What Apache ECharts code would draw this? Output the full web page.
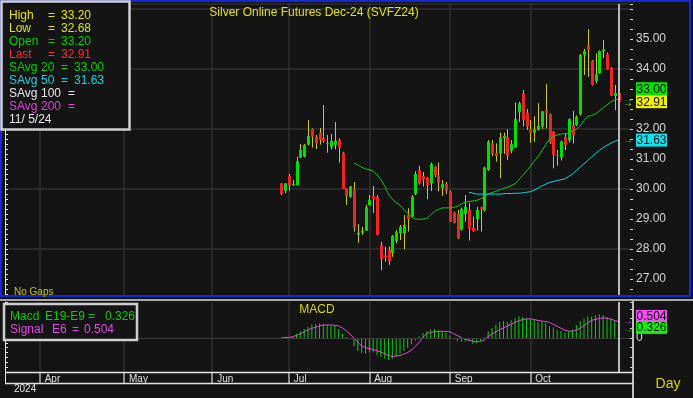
<!DOCTYPE html>
<html>
<head>
<meta charset="utf-8">
<script src="https://cdn.jsdelivr.net/npm/echarts@6.0.0/dist/echarts.min.js"></script>
<style>
  html, body { margin: 0; padding: 0; background: #141414; }
  #chart { width: 693px; height: 398px; }
</style>
</head>
<body>
<div id="chart"></div>
<script>
// trading-day slots per month
const monthNames = ['Mar', 'Apr', 'May', 'Jun', 'Jul', 'Aug', 'Sep', 'Oct', 'Nov']
const monthDays = [8, 22, 23, 20, 21, 21, 21, 21, 6]
// months that get a gridline and a label
const labelledMonths = ['Apr', 'May', 'Jun', 'Jul', 'Aug', 'Sep', 'Oct']
// first plotted bar
const firstBar = 'Jun 19'

// daily OHLC, Jun 27 .. Nov 5
const open = [
  30.18, 29.94, 30.43, 30.16, 30.13, 31.04, 31.08, 31.48, 32.00, 31.73,
  31.87, 31.71, 31.52, 31.41, 31.47, 31.64, 31.21, 30.02, 29.74, 29.99,
  28.48, 28.54, 28.61, 29.46, 29.77, 29.74, 28.14, 27.78, 27.97, 27.86,
  28.27, 28.52, 28.52, 29.13, 29.08, 29.83, 30.63, 30.43, 30.37, 30.19,
  30.74, 30.43, 30.04, 30.17, 29.91, 29.21, 29.17, 28.66, 29.17, 29.30,
  28.71, 28.99, 29.38, 29.28, 30.63, 31.52, 31.19, 31.19, 31.69, 31.72,
  31.28, 31.38, 32.56, 33.19, 32.54, 31.99, 31.88, 31.97, 32.08, 32.63,
  32.49, 31.91, 31.13, 31.05, 31.74, 31.63, 32.13, 32.13, 32.49, 34.47,
  34.78, 34.27, 33.60, 33.86, 34.60, 34.49, 34.04, 33.10, 33.20
]
const high = [
  30.20, 30.19, 30.50, 30.30, 31.07, 31.50, 31.50, 32.30, 32.02, 31.80,
  32.03, 32.80, 31.80, 31.83, 32.23, 31.69, 31.24, 30.02, 30.10, 30.23,
  28.83, 28.74, 29.47, 29.80, 30.10, 29.80, 28.24, 28.08, 28.08, 28.47,
  28.63, 28.80, 29.13, 29.36, 29.80, 30.59, 30.77, 30.57, 30.40, 30.88,
  30.77, 30.88, 30.30, 30.23, 29.95, 29.24, 29.30, 29.38, 29.80, 29.54,
  29.08, 29.41, 29.41, 30.74, 31.63, 31.63, 31.52, 31.88, 31.88, 31.99,
  31.63, 32.89, 32.91, 33.30, 32.67, 32.30, 32.43, 32.86, 32.60, 33.50,
  32.52, 31.93, 31.30, 31.62, 31.85, 32.35, 32.60, 32.45, 34.50, 34.67,
  35.33, 34.30, 34.52, 34.62, 34.97, 34.55, 34.06, 33.47, 33.20
]
const low = [
  29.80, 29.86, 29.94, 30.10, 30.13, 31.04, 31.05, 31.45, 31.38, 31.33,
  31.48, 31.54, 31.21, 31.32, 31.32, 30.88, 30.00, 29.47, 29.70, 28.58,
  28.21, 28.47, 28.60, 29.45, 29.21, 28.45, 27.30, 27.58, 27.47, 27.74,
  28.19, 28.30, 27.99, 28.58, 29.05, 29.80, 30.15, 30.08, 29.66, 29.93,
  30.40, 29.93, 29.77, 29.84, 28.90, 28.86, 28.33, 28.61, 28.91, 28.28,
  28.58, 28.61, 28.58, 29.25, 30.60, 31.10, 30.91, 30.36, 31.17, 30.97,
  31.19, 31.38, 32.24, 32.08, 31.97, 31.54, 31.58, 31.95, 32.00, 32.02,
  31.50, 30.69, 30.77, 30.95, 31.30, 31.55, 31.52, 32.10, 32.45, 33.80,
  33.74, 33.45, 33.52, 33.84, 34.36, 33.98, 33.10, 32.63, 32.68
]
const close = [
  29.83, 30.19, 30.10, 30.17, 30.93, 31.30, 31.47, 31.77, 31.74, 31.52,
  31.64, 31.60, 31.54, 31.60, 31.61, 31.38, 30.00, 29.77, 30.08, 28.71,
  28.54, 28.61, 29.39, 29.63, 29.66, 28.47, 27.66, 27.72, 27.58, 28.44,
  28.56, 28.74, 28.80, 28.99, 29.74, 30.50, 30.19, 30.32, 30.12, 30.83,
  30.47, 30.21, 30.17, 29.94, 28.93, 28.86, 28.36, 29.33, 29.41, 28.67,
  28.60, 29.30, 29.33, 30.71, 31.58, 31.17, 31.10, 31.72, 31.77, 31.11,
  31.50, 32.33, 32.86, 32.30, 32.08, 31.86, 31.99, 32.10, 32.58, 32.52,
  31.55, 31.13, 31.10, 31.58, 31.47, 32.33, 31.80, 32.41, 34.47, 34.60,
  34.63, 33.47, 33.82, 34.60, 34.65, 34.00, 33.11, 33.20, 32.91
]
// simple averages
const sma20 = Array(19).fill(null).concat([
  30.87, 30.80, 30.73, 30.67, 30.64, 30.60, 30.47, 30.32, 30.10, 29.82,
  29.66, 29.55, 29.46, 29.32, 29.19, 29.07, 29.00, 28.99, 29.00, 29.02,
  29.14, 29.25, 29.32, 29.37, 29.37, 29.37, 29.39, 29.42, 29.50, 29.56,
  29.58, 29.60, 29.62, 29.67, 29.74, 29.84, 29.88, 29.92, 29.97, 30.02,
  30.06, 30.11, 30.17, 30.31, 30.45, 30.60, 30.75, 30.92, 31.08, 31.27,
  31.47, 31.66, 31.74, 31.80, 31.83, 31.85, 31.86, 31.92, 32.00, 32.10,
  32.28, 32.42, 32.45, 32.50, 32.60, 32.71, 32.80, 32.90, 32.97, 33.00
])
const sma50 = Array(49).fill(null).concat([
  29.89, 29.86, 29.83, 29.83, 29.83, 29.83, 29.83, 29.83, 29.83, 29.84,
  29.85, 29.85, 29.86, 29.86, 29.87, 29.89, 29.91, 29.96, 30.03, 30.10,
  30.16, 30.22, 30.25, 30.28, 30.31, 30.34, 30.42, 30.50, 30.61, 30.73,
  30.84, 30.95, 31.07, 31.18, 31.29, 31.38, 31.46, 31.53, 31.59, 31.63
])
// MACD panel
const macd = [
  0.00, 0.00, 0.01, 0.04, 0.12, 0.21, 0.28, 0.35, 0.42, 0.44,
  0.45, 0.43, 0.40, 0.38, 0.37, 0.28, 0.12, 0.03, -0.04, -0.25,
  -0.40, -0.46, -0.49, -0.43, -0.45, -0.52, -0.57, -0.63, -0.68, -0.64,
  -0.58, -0.49, -0.40, -0.30, -0.19, -0.08, 0.05, 0.15, 0.21, 0.26,
  0.28, 0.24, 0.20, 0.16, 0.08, -0.04, -0.10, -0.12, -0.11, -0.11,
  -0.18, -0.16, -0.09, 0.02, 0.20, 0.31, 0.41, 0.49, 0.52, 0.50,
  0.55, 0.62, 0.67, 0.65, 0.62, 0.57, 0.57, 0.50, 0.51, 0.47,
  0.37, 0.32, 0.25, 0.21, 0.16, 0.20, 0.26, 0.40, 0.52, 0.60,
  0.67, 0.66, 0.70, 0.73, 0.71, 0.65, 0.60, 0.52, 0.326
]
const signal = [
  0.00, 0.01, 0.02, 0.04, 0.08, 0.13, 0.19, 0.25, 0.30, 0.33,
  0.37, 0.40, 0.40, 0.40, 0.39, 0.37, 0.31, 0.22, 0.12, -0.01,
  -0.14, -0.24, -0.30, -0.33, -0.36, -0.39, -0.43, -0.49, -0.54, -0.57,
  -0.56, -0.54, -0.50, -0.45, -0.37, -0.26, -0.13, 0.02, 0.14, 0.17,
  0.19, 0.20, 0.21, 0.20, 0.19, 0.13, 0.07, 0.01, -0.04, -0.07,
  -0.10, -0.12, -0.11, -0.06, 0.04, 0.12, 0.19, 0.26, 0.31, 0.37,
  0.42, 0.48, 0.53, 0.57, 0.59, 0.59, 0.57, 0.54, 0.52, 0.51,
  0.48, 0.42, 0.36, 0.30, 0.24, 0.21, 0.21, 0.24, 0.30, 0.38,
  0.48, 0.54, 0.58, 0.60, 0.62, 0.61, 0.58, 0.54, 0.504
]

const font = 'Liberation Sans, Arial, sans-serif'
const gridColor = '#2f2f2f'
const upColor = '#00e000'
const downColor = '#f02424'
const wickColor = '#cccc00'
const yellow = '#e4e400'
const green = '#00d000'
const cyan = '#10d4e4'
const magenta = '#e448e4'

// category slots
const cats = []
monthNames.forEach((m, k) => {
  for (let d = 1; d <= monthDays[k]; d++) cats.push(m + ' ' + d)
})
const offset = cats.indexOf(firstBar)
const lastIdx = offset + close.length - 1
const lastCat = cats[lastIdx]
const padded = arr => cats.map((_, i) => {
  const k = i - offset
  return k >= 0 && k < arr.length ? arr[k] : null
})
const isMonthTick = i => {
  const [m, d] = cats[i].split(' ')
  return d === '1' && labelledMonths.includes(m)
}

const candleData = close.map((c, i) => [offset + i, open[i], c, low[i], high[i]])

// price scale: main panel y 4..296
const priceMin = 26.4333
const priceMax = 36.1667

function renderCandle (params, api) {
  const idx = api.value(0)
  const o = api.value(1)
  const c = api.value(2)
  const pO = api.coord([idx, o])
  const pC = api.coord([idx, c])
  const pL = api.coord([idx, api.value(3)])
  const pH = api.coord([idx, api.value(4)])
  const x = Math.round(pO[0])
  const top = Math.min(pO[1], pC[1])
  const bh = Math.max(Math.abs(pO[1] - pC[1]), 1)
  return {
    type: 'group',
    children: [
      { type: 'line', shape: { x1: x + 0.5, y1: pH[1], x2: x + 0.5, y2: pL[1] }, style: { stroke: wickColor, lineWidth: 1 } },
      { type: 'rect', shape: { x: x - 1, y: top, width: 3, height: bh }, style: { fill: c >= o ? upColor : downColor } }
    ]
  }
}

const priceLabel = v => {
  const r = Math.round(v)
  return Math.abs(v - r) < 1e-6 && r >= 27 && r <= 35 && r !== 33 ? r.toFixed(2) : ''
}

const chart = echarts.init(document.getElementById('chart'))
const option = {
  backgroundColor: '#141414',
  animation: false,
  grid: [
    { left: 9, right: 63, top: 4, height: 292 },
    { left: 9, right: 63, top: 302, height: 70 }
  ],
  xAxis: [
    {
      type: 'category', gridIndex: 0, data: cats, boundaryGap: false,
      axisLine: { show: false }, axisTick: { show: false }, axisLabel: { show: false },
      splitLine: { show: true, interval: isMonthTick, lineStyle: { color: gridColor, width: 1.5 } }
    },
    {
      type: 'category', gridIndex: 1, data: cats, boundaryGap: false,
      axisLine: { show: false, onZero: false },
      axisTick: { show: true, interval: isMonthTick, length: 11, lineStyle: { color: '#8a8a8a', width: 2 } },
      axisLabel: {
        show: true, interval: isMonthTick, formatter: v => v.split(' ')[0],
        color: '#e0e0e0', fontSize: 10, fontFamily: font, align: 'left', padding: [0, 0, 0, 5], margin: 2
      },
      splitLine: { show: true, interval: isMonthTick, lineStyle: { color: gridColor, width: 1.5 } }
    }
  ],
  yAxis: [
    {
      type: 'value', gridIndex: 0, position: 'right', min: priceMin, max: priceMax, minInterval: 1, maxInterval: 1,
      axisLine: { show: false },
      axisTick: { show: true, length: 3, lineStyle: { color: '#d0d0d0' } },
      minorTick: { show: true, splitNumber: 3, length: 3, lineStyle: { color: '#d0d0d0' } },
      axisLabel: { color: '#d4d4d4', fontSize: 12, fontFamily: font, margin: 6, formatter: priceLabel },
      splitLine: { show: false }
    },
    {
      type: 'value', gridIndex: 0, position: 'right', min: priceMin, max: priceMax, minInterval: 2, maxInterval: 2,
      axisLine: { show: false }, axisTick: { show: false }, axisLabel: { show: false },
      splitLine: { show: true, lineStyle: { color: gridColor, width: 1.5 } }
    },
    {
      type: 'value', gridIndex: 0, position: 'left', offset: 4, min: priceMin, max: priceMax, minInterval: 1, maxInterval: 1,
      axisLine: { show: true, lineStyle: { color: '#e8e8e8' } },
      axisTick: { show: true, inside: true, length: 3, lineStyle: { color: '#e8e8e8' } },
      minorTick: { show: true, splitNumber: 6, length: 3, lineStyle: { color: '#e8e8e8' } },
      axisLabel: { show: false }, splitLine: { show: false }
    },
    {
      type: 'value', gridIndex: 1, position: 'right', min: -1.05, max: 1.11, minInterval: 0.3, maxInterval: 0.3,
      axisLine: { show: false },
      axisTick: { show: true, length: 3, lineStyle: { color: '#d0d0d0' } },
      axisLabel: { color: '#d8d8f0', fontSize: 12, fontFamily: font, margin: 6, formatter: v => Math.abs(v) < 1e-6 ? '0' : '' },
      splitLine: { show: false }
    },
    {
      type: 'value', gridIndex: 1, position: 'left', offset: 4, min: -1.05, max: 1.11, minInterval: 0.3, maxInterval: 0.3,
      axisLine: { show: true, lineStyle: { color: '#e8e8e8' } },
      axisTick: { show: true, inside: true, length: 3, lineStyle: { color: '#e8e8e8' } },
      minorTick: { show: true, splitNumber: 2, length: 3, lineStyle: { color: '#e8e8e8' } },
      axisLabel: { show: false }, splitLine: { show: false }
    }
  ],
  series: [
    {
      type: 'custom', name: 'Price', xAxisIndex: 0, yAxisIndex: 0, renderItem: renderCandle,
      data: candleData, encode: { x: 0, y: [1, 2, 3, 4] }, clip: true, z: 3
    },
    {
      type: 'line', name: 'SAvg 20', xAxisIndex: 0, yAxisIndex: 0, data: padded(sma20),
      symbol: 'none', lineStyle: { color: '#14c414', width: 1 }, z: 4,
      markLine: {
        silent: true, symbol: 'none', label: { show: false },
        lineStyle: { color: '#bcbcbc', width: 2, type: 'solid' }, data: [{ xAxis: lastCat }]
      }
    },
    {
      type: 'line', name: 'SAvg 50', xAxisIndex: 0, yAxisIndex: 0, data: padded(sma50),
      symbol: 'none', lineStyle: { color: cyan, width: 1 }, z: 4
    },
    {
      type: 'bar', name: 'Macd', xAxisIndex: 1, yAxisIndex: 3, data: padded(macd), barWidth: 1,
      itemStyle: { color: p => p.dataIndex === lastIdx ? magenta : '#00d400' },
      markLine: {
        silent: true, symbol: 'none', label: { show: false },
        data: [
          { yAxis: 0, lineStyle: { color: '#3a3a3a', width: 1, type: 'solid' } },
          { xAxis: lastCat, lineStyle: { color: '#bcbcbc', width: 2, type: 'solid' } }
        ]
      }
    },
    {
      type: 'line', name: 'Signal', xAxisIndex: 1, yAxisIndex: 3, data: padded(signal),
      symbol: 'none', lineStyle: { color: magenta, width: 1 }, z: 4
    }
  ]
}
chart.setOption(option)

// text helpers
const txt = (x, y, s, color, size, align) => ({
  type: 'text', x, y, z: 120,
  style: {
    text: s, fill: color, font: (size || 12) + 'px ' + font,
    align: align || 'left', textAlign: align || 'left', verticalAlign: 'middle', textVerticalAlign: 'middle'
  }
})
const box = (y, s, color) => [
  { type: 'rect', z: 118, shape: { x: 636, y: y - 6.5, width: 31, height: 13 }, style: { fill: color } },
  txt(651.5, y + 0.5, s, '#101010', 12, 'center')
]
const hline = (x1, x2, y, color, w) => ({ type: 'line', z: 110, shape: { x1, y1: y, x2, y2: y }, style: { stroke: color, lineWidth: w } })
const vline = (x, y1, y2, color, w) => ({ type: 'line', z: 110, shape: { x1: x, y1, x2: x, y2 }, style: { stroke: color, lineWidth: w } })

const last = close.length - 1
const py = v => chart.convertToPixel({ yAxisIndex: 0 }, v)
const my = v => chart.convertToPixel({ yAxisIndex: 3 }, v)
const yLast = py(close[last])
const y50 = py(sma50[last])
const ySig = my(signal[last])
const yMacd = my(macd[last])

const legendRows = [
  ['High', '=', high[last].toFixed(2), yellow, 48, 61],
  ['Low', '=', low[last].toFixed(2), yellow, 48, 61],
  ['Open', '=', open[last].toFixed(2), green, 48, 61],
  ['Last', '=', close[last].toFixed(2), '#ff2a2a', 48, 61]
]
const avgRows = [
  ['20', '=', sma20[last].toFixed(2), green, 61, 74],
  ['50', '=', sma50[last].toFixed(2), cyan, 61, 74],
  ['100', '=', '', '#e8e8e8', 68, 80],
  ['200', '=', '', '#e040e0', 68, 80]
]
const graphic = [
  { type: 'rect', z: 105, shape: { x: 1, y: 1, width: 689, height: 295 }, style: { fill: 'transparent', stroke: '#1428d8', lineWidth: 2 } },
  hline(0, 693, 300, '#a8a8a8', 2),
  vline(633, 301, 398, '#c0c0c0', 2),
  hline(5, 633, 372.5, '#e8e8e8', 1.5),
  hline(5, 633, 383.5, '#e0e0e0', 1.5),
  vline(5.5, 372, 384, '#e0e0e0', 1),
  // price legend
  { type: 'rect', z: 115, shape: { x: 1.5, y: 1.5, width: 128, height: 128 }, style: { fill: '#141414', stroke: '#cfcfcf', lineWidth: 2.5 } },
  // MACD legend
  { type: 'rect', z: 115, shape: { x: 4, y: 304, width: 133, height: 36 }, style: { fill: '#141414', stroke: '#cfcfcf', lineWidth: 2.5 } },
  txt(10, 317, 'Macd', green), txt(45, 317, 'E19-E9', green), txt(88, 317, '=', green), txt(105, 317, macd[last].toFixed(3), green),
  txt(10, 330, 'Signal', magenta), txt(52, 330, 'E6', magenta), txt(72, 330, '=', magenta), txt(84, 330, signal[last].toFixed(3), magenta),
  txt(314, 13, 'Silver Online Futures Dec-24 (SVFZ24)', yellow, 12, 'center'),
  txt(317, 310, 'MACD', '#d8d800', 12, 'center'),
  txt(14, 292, 'No Gaps', '#c4c400', 10),
  txt(14, 389, '2024', '#e8e8e8', 10),
  txt(668, 384, 'Day', '#d8d800', 14, 'center'),
  txt(9, 120, '11/ 5/24', '#e8e8e8'),
  // value boxes
  ...box(yLast - 13, sma20[last].toFixed(2), '#00e400'),
  ...box(yLast, close[last].toFixed(2), '#f0f000'),
  ...box(y50, sma50[last].toFixed(2), '#10e4f0'),
  ...box(yMacd - 11, signal[last].toFixed(3), '#f050f0'),
  ...box(yMacd, macd[last].toFixed(3), '#10f010'),
  txt(623, py(sma20[last]), '→', green, 10),
  txt(623, yLast + 2, '→', yellow, 10),
  txt(623, y50, '→', cyan, 10),
  txt(623, ySig, '→', magenta, 10),
  txt(623, yMacd + 2, '→', green, 10)
]
legendRows.forEach((r, k) => {
  const y = 16 + 13 * k
  graphic.push(txt(9, y, r[0], r[3]), txt(r[4], y, r[1], r[3]), txt(r[5], y, r[2], r[3]))
})
avgRows.forEach((r, k) => {
  const y = 68 + 13 * k
  graphic.push(txt(9, y, 'SAvg', r[3]), txt(41, y, r[0], r[3]), txt(r[4], y, r[1], r[3]))
  if (r[2]) graphic.push(txt(r[5], y, r[2], r[3]))
})
chart.setOption({ graphic })
</script>
</body>
</html>
